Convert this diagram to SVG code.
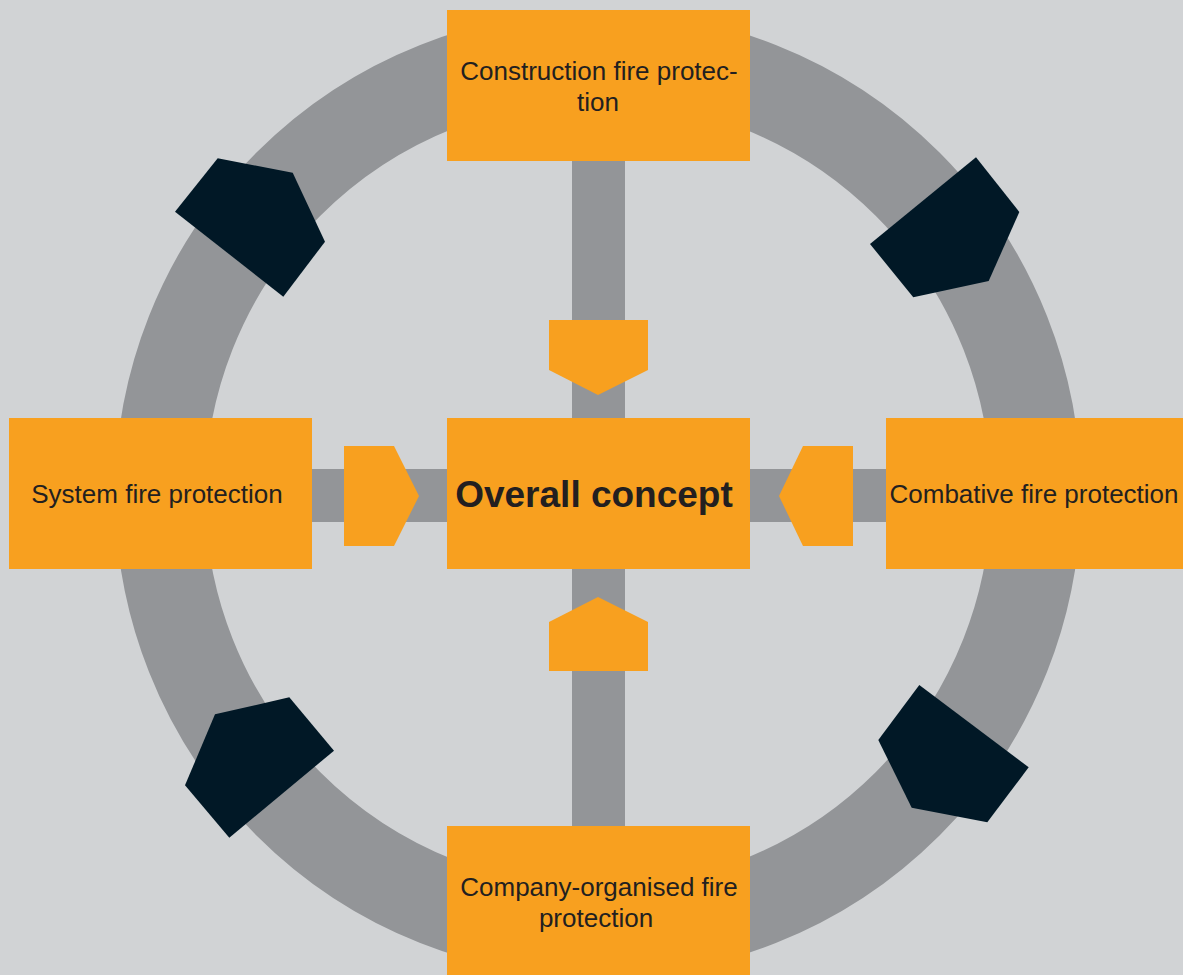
<svg xmlns="http://www.w3.org/2000/svg" width="1183" height="975" viewBox="0 0 1183 975">
  <style>
    .box { fill: #F8A01F; }
    .lbl { font-family: "Liberation Sans", Arial, Helvetica, sans-serif; font-size: 26px; fill: #231F20; text-anchor: middle; }
    .main { font-family: "Liberation Sans", Arial, Helvetica, sans-serif; font-size: 37px; font-weight: bold; fill: #231F20; text-anchor: middle; }
    .bar { fill: #939598; }
    .ring { fill: none; stroke: #939598; stroke-width: 90; }
    .knob { fill: #011826; }
    .arrow { fill: #F8A01F; }
  </style>
  <rect x="0" y="0" width="1183" height="975" fill="#D1D3D5"/>
  <g id="connectors">
    <circle class="ring" cx="598" cy="494" r="438"/>
    <rect class="bar" x="572" y="161" width="53" height="665"/>
    <rect class="bar" x="311" y="469" width="575" height="53"/>
    <polygon class="knob" points="217.7,158.3 292.7,172.7 325,241.7 283.3,296.7 175,211.7"/>
    <polygon class="knob" points="976,157.3 1019.3,212 988.7,281 913.3,297.3 870,244"/>
    <polygon class="knob" points="289.3,697.3 334,750.7 229.3,837.7 185,785.3 215,714.3"/>
    <polygon class="knob" points="919.3,685 1028.7,767.3 987.3,822.3 911.7,807.7 878.3,740"/>
    <polygon class="arrow" points="549,320 648,320 648,370 598,395 549,370"/>
    <polygon class="arrow" points="598,597 648,622 648,671 549,671 549,622"/>
    <polygon class="arrow" points="344,446 394,446 419,496 394,546 344,546"/>
    <polygon class="arrow" points="853,446 853,546 803,546 779,496 803,446"/>
  </g>
  <g id="node-construction">
    <rect class="box" x="447" y="10" width="303" height="151"/>
    <text class="lbl" x="599" y="80">Construction fire protec-</text>
    <text class="lbl" x="598" y="111">tion</text>
  </g>
  <g id="node-system">
    <rect class="box" x="9" y="418" width="303" height="151"/>
    <text class="lbl" x="157" y="503">System fire protection</text>
  </g>
  <g id="node-overall">
    <rect class="box" x="447" y="418" width="303" height="151"/>
    <text class="main" x="594" y="507">Overall concept</text>
  </g>
  <g id="node-combative">
    <rect class="box" x="886" y="418" width="297" height="151"/>
    <text class="lbl" x="1034" y="503">Combative fire protection</text>
  </g>
  <g id="node-company">
    <rect class="box" x="447" y="826" width="303" height="149"/>
    <text class="lbl" x="599" y="896">Company-organised fire</text>
    <text class="lbl" x="596" y="927">protection</text>
  </g>
</svg>
